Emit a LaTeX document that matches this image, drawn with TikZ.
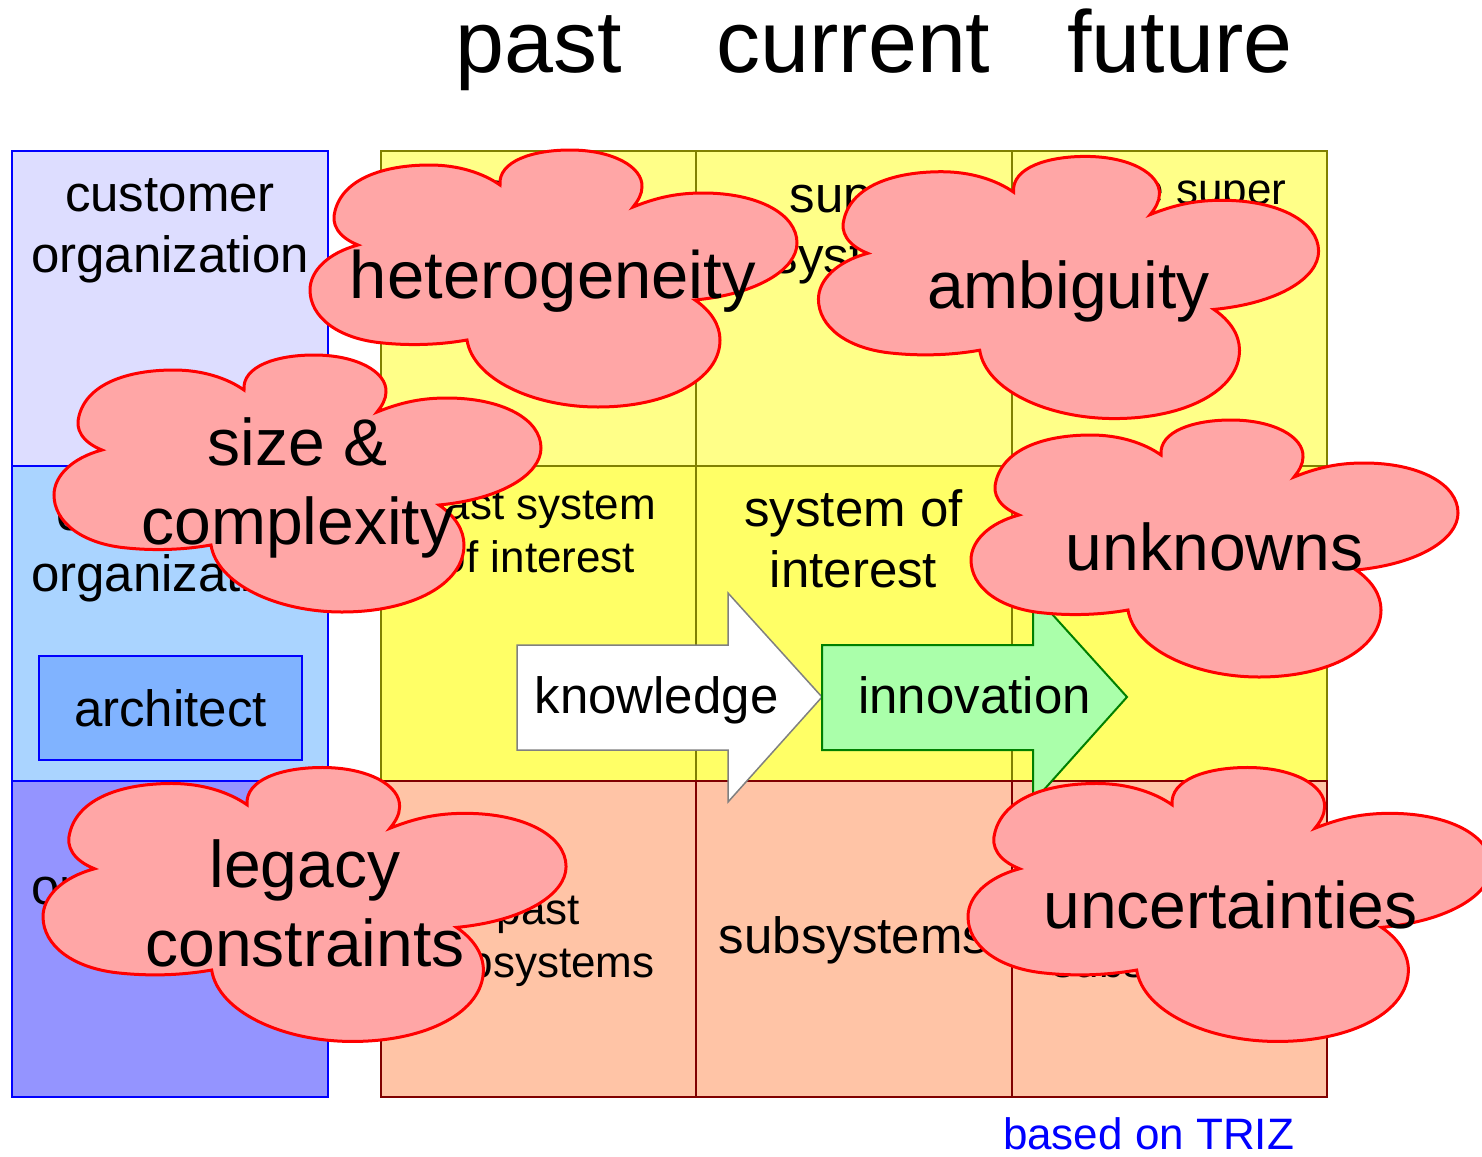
\documentclass[tikz,border=0pt]{standalone}
\usepackage{fontspec}
\setmainfont{Liberation Sans}
\usetikzlibrary{positioning}

\definecolor{custfill}{HTML}{DDDDFF}
\definecolor{contrfill}{HTML}{AAD4FF}
\definecolor{suppfill}{HTML}{9494FF}
\definecolor{archfill}{HTML}{80B3FF}
\definecolor{superfill}{HTML}{FFFF88}
\definecolor{soifill}{HTML}{FFFF66}
\definecolor{subfill}{HTML}{FFC4A6}
\definecolor{olive}{HTML}{808000}
\definecolor{darkred}{HTML}{800000}
\definecolor{troublefill}{HTML}{FFA6A6}
\definecolor{innofill}{HTML}{AAFFAA}
\definecolor{innoline}{HTML}{008000}

\begin{document}
\begin{tikzpicture}[x=0.5pt, y=-0.5pt]

  % Styles
  \tikzset{
    title/.style={font=\fontsize{44}{53}\selectfont, inner sep=0pt, anchor=base},
    bigtext/.style={font=\fontsize{25.5}{30.5}\selectfont, align=center, inner sep=0pt},
    smalltext/.style={font=\fontsize{22}{26.5}\selectfont, align=center, inner sep=0pt},
    troubletext/.style={font=\fontsize{33}{39.5}\selectfont, align=center, inner sep=0pt},
    orgbox/.style={draw=blue, line width=1.25pt},
    cell/.style={draw=olive, line width=1pt},
    subcell/.style={draw=darkred, line width=1pt, fill=subfill},
    archbox/.style={orgbox, fill=archfill, minimum width=131.5pt, minimum height=52pt,
      font=\fontsize{25.5}{30.5}\selectfont},
    troubleline/.style={draw=red, line width=1.5pt, fill=troublefill},
    pics/trouble/.style={code={
      \draw[troubleline]
        (-195,-34) .. controls (-215,-42) and (-222,-55) .. (-218,-68)
        .. controls (-210,-100) and (-170,-114) .. (-123,-114)
        .. controls (-95,-114) and (-70,-106) .. (-53,-94)
        .. controls (-55,-118) and (-20,-129) .. (17,-129)
        .. controls (60,-129) and (90,-112) .. (89,-92)
        .. controls (89,-85) and (85,-78) .. (80,-72)
        .. controls (105,-82) and (125,-86) .. (150,-86)
        .. controls (205,-86) and (244,-65) .. (244,-36)
        .. controls (244,-10) and (205,15) .. (142,21)
        .. controls (158,32) and (167,46) .. (167,61)
        .. controls (167,100) and (115,128) .. (45,128)
        .. controls (-20,128) and (-80,100) .. (-86,61)
        .. controls (-120,67) and (-150,66) .. (-170,64)
        .. controls (-215,60) and (-243,38) .. (-243,11)
        .. controls (-243,-8) and (-225,-26) .. (-195,-34) -- cycle;
    }}
  }

  \useasboundingbox (0,0) rectangle (1482,1156);

  % Column titles
  \node[title] (past) at (538.5,73) {past};
  \node[title] (current) at (853.5,73) {current};
  \node[title] (future) at (1180,73) {future};

  % Organizations
  \draw[orgbox, fill=custfill] (12,151) rectangle (328,466);
  \draw[orgbox, fill=contrfill] (12,466) rectangle (328,781);
  \draw[orgbox, fill=suppfill] (12,781) rectangle (328,1097);
  \node[bigtext] (cust) at (170,231) {customer\\organization};
  \node[bigtext] (contr) at (170,549.5) {contractor\\organization};
  \node[bigtext] (supp) at (170,861) {supplier\\organization};
  \node[archbox] (arch) at (170.5,708) {architect};

  % Nine windows
  \foreach \c in {0,1,2} {
    \draw[cell, fill=superfill] ({381+315.33*\c},151) rectangle ++(315.33,315);
    \draw[cell, fill=soifill] ({381+315.33*\c},466) rectangle ++(315.33,315);
  }
  \foreach \c in {0,1,2}
    \draw[subcell] ({381+315.33*\c},781) rectangle ++(315.33,316);

  \node[smalltext] (pastsuper) at (538.5,221.5) {past super\\system};
  \node[bigtext] (super) at (853.5,234.5) {super\\system};
  \node[smalltext] (futuresuper) at (1169,220) {future super\\system};
  \node[smalltext] (pastsoi) at (538.5,532) {past system\\of interest};
  \node[bigtext] (soi) at (853.5,539) {system of\\interest};
  \node[smalltext] (futuresoi) at (1169,530.5) {future system\\of interest};
  \node[smalltext] (pastsub) at (538.5,941) {past\\subsystems};
  \node[bigtext] (sub) at (853.5,940) {subsystems};
  \node[smalltext] (futuresub) at (1169,939.5) {future\\subsystems};

  % Block arrows
  \draw[draw=gray, line width=0.75pt, fill=white]
    (517,645) -- (728,645) -- (728,593) -- (822,697) -- (728,802) -- (728,750) -- (517,750) -- cycle;
  \node[bigtext, anchor=base] (know) at (656.5,713) {knowledge};
  \draw[draw=innoline, line width=1pt, fill=innofill]
    (822,645) -- (1033,645) -- (1033,593) -- (1127,697) -- (1033,802) -- (1033,750) -- (822,750) -- cycle;
  \node[bigtext, anchor=base] (inno) at (974.5,713) {innovation};

  % Clouds
  \pic at (553,279) {trouble};
  \node[troubletext, anchor=base, font=\fontsize{33.5}{40}\selectfont] (hetero) at (553,298) {heterogeneity};
  \pic[xscale=1.027, yscale=1.02] at (1068,288) {trouble};
  \node[troubletext, anchor=base] (ambig) at (1068.5,308) {ambiguity};
  \pic at (297,484) {trouble};
  \node[troubletext] (size) at (297.5,488) {size \&\\complexity};
  \pic at (1214,549) {trouble};
  \node[troubletext, anchor=base] (unknown) at (1214.5,570) {unknowns};
  \pic[xscale=1.074, yscale=1.066] at (304,905) {trouble};
  \node[troubletext] (legacy) at (305,903.5) {legacy\\constraints};
  \pic[xscale=1.074, yscale=1.066] at (1229,905) {trouble};
  \node[troubletext, anchor=base] (uncert) at (1230.5,928) {uncertainties};

  % Source
  \node[font=\fontsize{22}{26.5}\selectfont, text=blue, inner sep=0pt, anchor=base] (src) at (1148.5,1149) {based on TRIZ};

\end{tikzpicture}
\end{document}
